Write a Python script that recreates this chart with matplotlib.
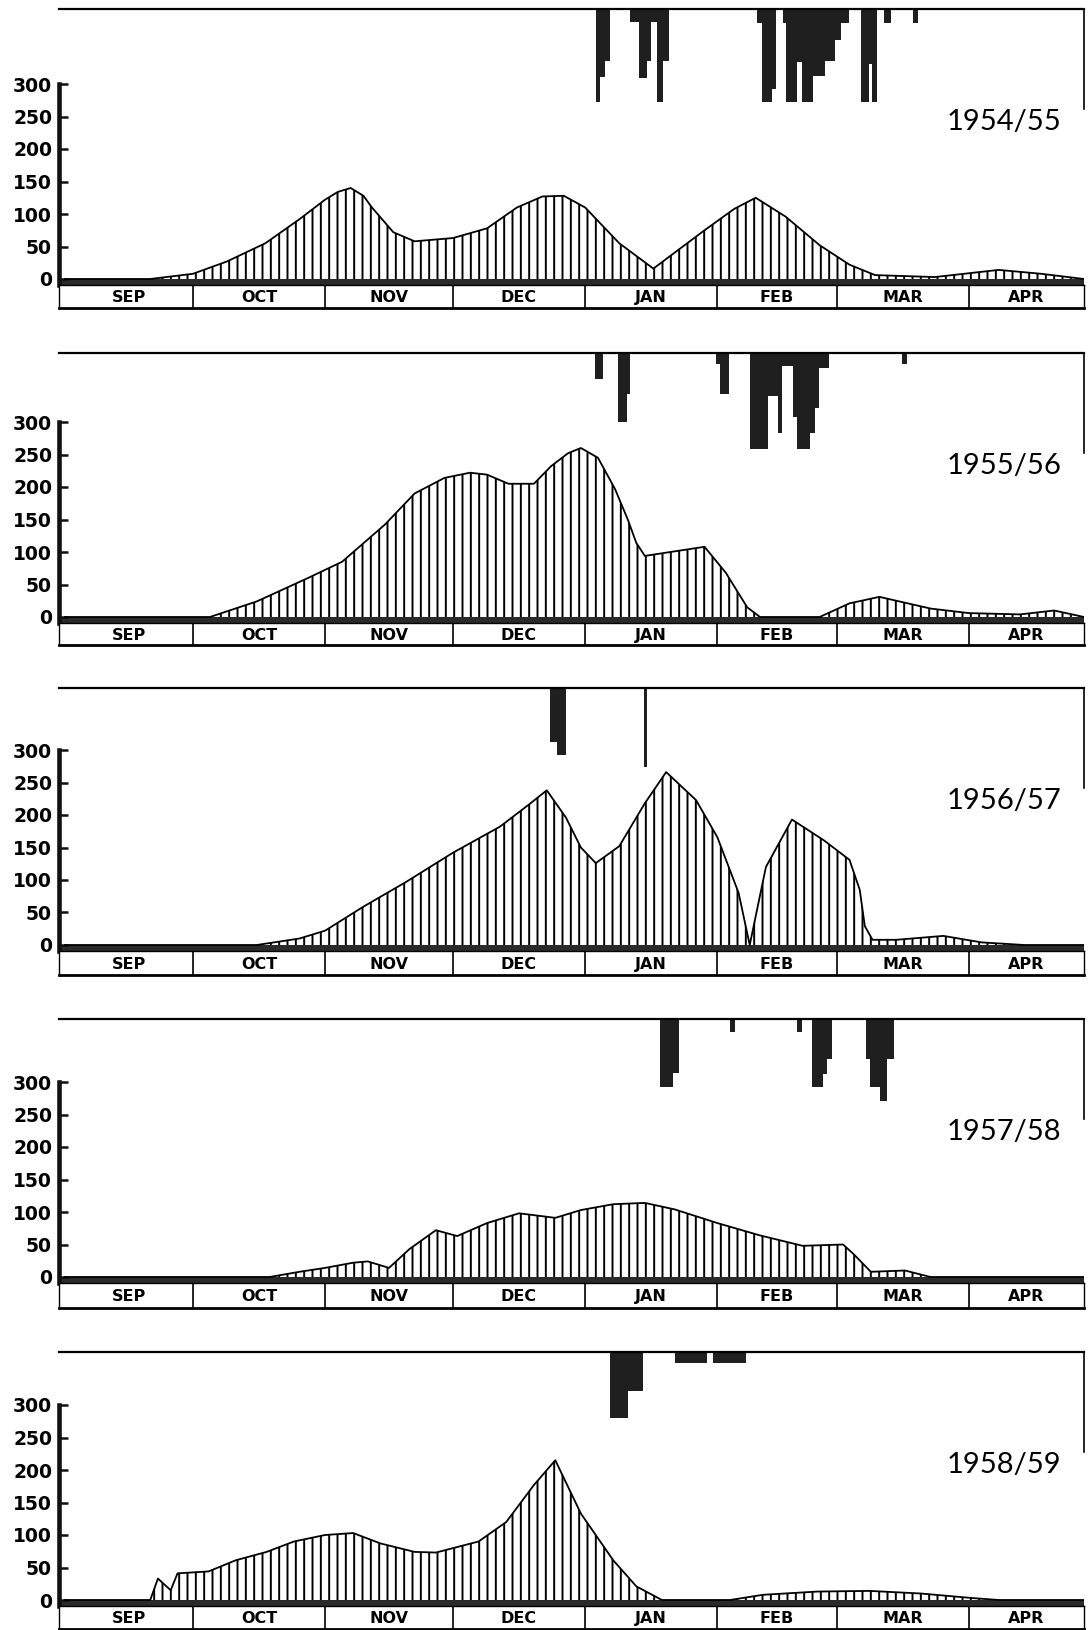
import matplotlib.pyplot as plt
import numpy as np

plt.rcParams['hatch.linewidth'] = 1.4
plt.rcParams['font.family'] = ['DejaVu Sans']

months = ['SEP', 'OCT', 'NOV', 'DEC', 'JAN', 'FEB', 'MAR', 'APR']
month_days = [30, 31, 30, 31, 31, 28, 31, 30]
seasons = ['1954/55', '1955/56', '1956/57', '1957/58', '1958/59']
yticks = [0, 50, 100, 150, 200, 250, 300]

# curve: day counted from 1 Sep, value
day_5455 = [0, 20, 30, 38, 47, 55, 61, 64, 67, 70, 72, 77, 82, 91, 99, 106, 112, 117, 122, 130, 138,
            150, 157, 162, 169, 177, 184, 190, 204, 219, 229, 239]
val_5455 = [0, 0, 8, 27, 55, 92, 122, 134, 140, 128, 110, 72, 58, 63, 78, 110, 127, 128, 110, 55, 16,
            75, 108, 125, 96, 52, 22, 6, 3, 14, 8, 0]

day_5556 = [0, 34, 45, 57, 65, 75, 82, 89, 95, 99, 104, 110, 114, 118, 121, 125, 129, 132, 134, 136,
            142, 150, 155, 160, 163, 177, 184, 191, 203, 212, 224, 232, 239]
val_5556 = [0, 0, 24, 60, 85, 142, 190, 214, 222, 219, 205, 205, 232, 252, 260, 245, 197, 150, 114, 94,
            100, 108, 68, 15, 0, 0, 21, 31, 13, 6, 4, 10, 0]

day_5657 = [0, 45, 55, 61, 70, 80, 91, 102, 109, 113, 117.5, 121, 124.5, 130, 136, 141, 148, 153, 158,
            160.6, 164.4, 170.5, 178, 184, 186.4, 187.6, 189.4, 195, 206, 215, 225, 239]
val_5657 = [0, 0, 10, 22, 59, 97, 142, 182, 217, 238, 196, 150, 126, 152, 218, 266, 223, 166, 80,
            0, 120, 193, 161, 131, 85, 29, 8, 8, 14, 4, 0, 0]

day_5758 = [0, 48, 55, 61, 67.6, 71, 76, 80.8, 87, 92, 99, 106.5, 115, 121, 128.6, 136, 143, 153, 163,
            173, 182.5, 185, 189, 197, 203, 239]
val_5758 = [0, 0, 8, 14, 22, 24, 14, 43, 72, 63, 83, 98, 91, 103, 112, 114, 104, 83, 64,
            48, 50, 35, 8, 10, 0, 0]

day_5859 = [0, 20, 21.8, 24.8, 26.4, 33.7, 40, 47.3, 53.7, 61, 67.6, 74, 82, 87, 97, 103.5, 110, 115,
            121, 128.6, 134, 140, 156, 163.7, 176.5, 188.7, 200.7, 212.8, 219, 239]
val_5859 = [0, 0, 33, 15, 41, 44, 61, 74, 90, 100, 103, 87, 74, 73, 90, 120, 177, 215,
            133, 61, 21, 0, 0, 8, 13, 14, 10, 3, 0, 0]

# bars hanging from the top line: start day, width (days), depth
bar_start_5455 = [124.6, 125.6, 126.6, 132.6, 134.6, 136.4, 137.4, 138.8, 140.2, 162.2, 163.4, 165.8,
                  168.3, 169.0, 171.8, 172.8, 175.4, 178.2, 180.6, 182.1, 186.6, 188.6, 189.3, 192.0, 199.0]
bar_width_5455 = [1.0, 1.0, 1.2, 2.0, 1.8, 1.0, 1.4, 1.4, 1.5, 1.2, 2.4, 1.0,
                  0.7, 2.8, 1.0, 2.6, 2.8, 2.4, 1.5, 1.8, 2.0, 0.7, 1.2, 1.8, 1.0]
bar_depth_5455 = [93, 68, 52, 13, 69, 52, 13, 93, 52, 14, 93, 80,
                  14, 93, 53, 93, 67, 52, 31, 14, 93, 55, 93, 14, 14]

bar_start_5556 = [124.2, 129.7, 131.7, 152.6, 153.6, 160.7, 165.0, 167.2, 168.2, 170.8, 171.8, 174.8,
                  175.8, 176.8, 196.3]
bar_width_5556 = [2.0, 2.0, 0.9, 1.0, 2.2, 4.3, 2.2, 1.0, 2.6, 1.0, 3.0, 1.0, 1.0, 2.4, 1.2]
bar_depth_5556 = [26, 69, 41, 11, 41, 96, 43, 80, 13, 64, 96, 80, 55, 15, 11]

bar_start_5657 = [113.7, 115.5, 135.8]
bar_width_5657 = [1.8, 2.0, 0.6]
bar_depth_5657 = [54, 67, 79]

bar_start_5758 = [139.6, 142.6, 156.0, 171.6, 175.1, 177.9, 178.7, 187.8, 188.9, 191.1, 192.7]
bar_width_5758 = [3.0, 1.4, 1.1, 1.3, 2.8, 0.8, 1.3, 1.1, 2.2, 1.6, 1.7]
bar_depth_5758 = [68, 54, 13, 13, 68, 55, 40, 40, 68, 82, 40]

bar_start_5859 = [127.9, 132.1, 143.1, 151.9]
bar_width_5859 = [4.2, 3.5, 7.5, 7.9]
bar_depth_5859 = [66, 39, 11, 11]

days = [day_5455, day_5556, day_5657, day_5758, day_5859]
vals = [val_5455, val_5556, val_5657, val_5758, val_5859]
bar_starts = [bar_start_5455, bar_start_5556, bar_start_5657, bar_start_5758, bar_start_5859]
bar_widths = [bar_width_5455, bar_width_5556, bar_width_5657, bar_width_5758, bar_width_5859]
bar_depths = [bar_depth_5455, bar_depth_5556, bar_depth_5657, bar_depth_5758, bar_depth_5859]

# page layout in pixels
W, H = 1092, 1630
x0, x1 = 59, 1084
xmin, xmax = -1.4, 239          # drawn time span (days)
top_px = [9, 353, 688, 1019, 1352]
zero_px = [279, 617, 945, 1277, 1600]
band_px = [308, 645, 975, 1308, 1629]
scale = 195 / 300  # px per unit

fig = plt.figure(figsize=(W / 100, H / 100), dpi=100)
edges = np.concatenate([[0], np.cumsum(month_days)])


def fy(px):
    return 1 - px / H


for i in range(5):
    T, Z, B = top_px[i], zero_px[i], band_px[i]
    y300 = Z - 195
    btop = Z + 6
    lo = -(btop - Z) / scale

    # curve with vertical hatching
    ax = fig.add_axes([x0 / W, fy(btop), (x1 - x0) / W, (btop - y300) / H])
    ax.patch.set_alpha(0)
    ax.set_xlim(xmin, xmax)
    ax.set_ylim(lo, 300)
    ax.fill_between(days[i], 0, vals[i], facecolor='none', edgecolor='black',
                    hatch='||', linewidth=0)
    ax.plot(days[i], vals[i], color='black', lw=1.3)
    ax.axhspan(lo, 0, color='#2a2a2a', lw=0)
    for s in ['top', 'right', 'bottom']:
        ax.spines[s].set_visible(False)
    ax.spines['left'].set_linewidth(3.3)
    ax.spines['left'].set_color('#111111')
    ax.set_xticks([])
    ax.set_yticks(yticks)
    ax.set_yticklabels([str(t) for t in yticks], fontsize=13.5, fontweight='bold')
    ax.tick_params(axis='y', direction='in', length=6.5, width=1.8, pad=5, color='#111111')

    # month band
    axb = fig.add_axes([x0 / W, fy(B), (x1 - x0) / W, (B - btop) / H])
    axb.set_xlim(xmin, xmax)
    axb.set_ylim(0, 1)
    axb.set_xticks([])
    axb.set_yticks([])
    axb.vlines(edges[1:-1], 0, 1, color='black', lw=1.2)
    for s in ['left', 'right', 'top']:
        axb.spines[s].set_linewidth(1.0)
    axb.spines['bottom'].set_linewidth(2.0)
    for m in range(len(months)):
        a, b = max(edges[m], xmin), min(edges[m + 1], xmax)
        axb.text((a + b) / 2, 0.45, months[m], ha='center', va='center',
                 fontsize=11.5, fontweight='bold')

    # bars hanging from the top line
    axt = fig.add_axes([x0 / W, fy(T + 100), (x1 - x0) / W, 100 / H])
    axt.patch.set_alpha(0)
    axt.set_xlim(xmin, xmax)
    axt.set_ylim(100, 0)
    axt.bar(bar_starts[i], bar_depths[i], width=bar_widths[i], align='edge',
            color='#1f1f1f', linewidth=0)
    axt.spines['left'].set_visible(False)
    axt.spines['bottom'].set_visible(False)
    axt.spines['top'].set_linewidth(1.6)
    axt.spines['right'].set_linewidth(1.2)
    axt.set_xticks([])
    axt.set_yticks([])

    fig.text(1004 / W, fy(T + 113), seasons[i], ha='center', va='center', fontsize=21,
             family=['Lato', 'DejaVu Sans'], color='black')

fig.savefig('out.png', dpi=100)
